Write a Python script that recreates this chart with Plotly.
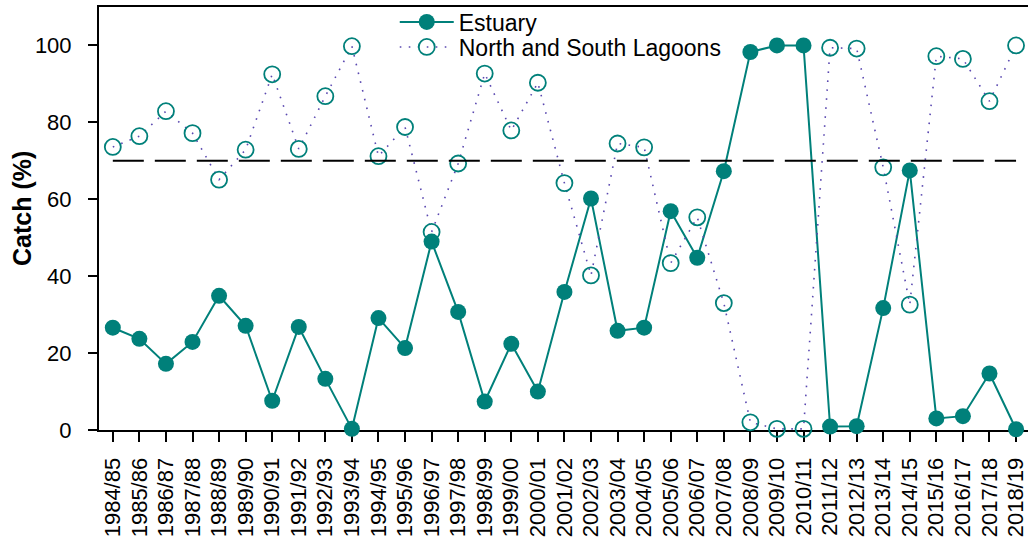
import plotly.graph_objects as go

seasons = ["1984/85", "1985/86", "1986/87", "1987/88", "1988/89", "1989/90", "1990/91",
           "1991/92", "1992/93", "1993/94", "1994/95", "1995/96", "1996/97", "1997/98",
           "1998/99", "1999/00", "2000/01", "2001/02", "2002/03", "2003/04", "2004/05",
           "2005/06", "2006/07", "2007/08", "2008/09", "2009/10", "2010/11", "2011/12",
           "2012/13", "2013/14", "2014/15", "2015/16", "2016/17", "2017/18", "2018/19"]

estuary = [26.6, 23.7, 17.2, 22.9, 34.9, 27.1, 7.6, 26.8, 13.3, 0.3, 29.1, 21.3, 49.0, 30.7,
           7.4, 22.4, 10.0, 35.9, 60.2, 25.8, 26.6, 56.9, 44.8, 67.3, 98.3, 100.0, 100.0,
           0.9, 1.0, 31.7, 67.5, 3.0, 3.6, 14.7, 0.2]

lagoons = [73.6, 76.4, 82.9, 77.2, 65.1, 72.9, 92.5, 73.1, 86.8, 99.8, 71.2, 78.8, 51.5, 69.3,
           92.7, 77.9, 90.3, 64.2, 40.2, 74.5, 73.5, 43.4, 55.3, 33.0, 2.0, 0.3, 0.3,
           99.4, 99.2, 68.3, 32.6, 97.2, 96.5, 85.5, 100.0]

reference_level = 70

TEAL = "#00807a"
FONT = "Liberation Sans, Arial, Helvetica, sans-serif"

fig = go.Figure()

fig.add_trace(go.Scatter(
    x=seasons, y=estuary, name="Estuary", mode="lines+markers",
    line=dict(color=TEAL, width=2),
    marker=dict(symbol="circle", size=16, color=TEAL),
    cliponaxis=False, legend="legend"))

fig.add_trace(go.Scatter(
    x=seasons, y=lagoons, name="North and South Lagoons", mode="lines+markers",
    line=dict(color="#5a48b0", width=1.6, dash="1.6px,7.4px"),
    marker=dict(symbol="circle-open", size=16, color=TEAL, line=dict(width=1.8, color=TEAL)),
    cliponaxis=False, legend="legend2"))

fig.add_trace(go.Scatter(
    x=[seasons[0], seasons[-1]], y=[reference_level, reference_level],
    mode="lines", line=dict(color="black", width=2, dash="31px,11px"),
    showlegend=False, hoverinfo="skip"))

legend_common = dict(xref="container", yref="container", xanchor="left", yanchor="middle",
                     bgcolor="rgba(0,0,0,0)", font=dict(size=23), itemwidth=54)

fig.update_layout(
    width=1028, height=537,
    margin=dict(l=99, r=0, t=7, b=107, autoexpand=False),
    paper_bgcolor="white", plot_bgcolor="white",
    font=dict(family=FONT, size=22, color="black"),
    showlegend=True,
    legend=dict(x=0.384, y=1 - 22 / 537, **legend_common),
    legend2=dict(x=0.384, y=1 - 47 / 537, **legend_common),
    xaxis=dict(type="category", categoryorder="array", categoryarray=seasons,
               tickmode="array", tickvals=seasons, ticktext=seasons,
               range=[-0.52, 34.45], showgrid=False, zeroline=False, automargin=False,
               showline=True, linecolor="black", linewidth=2, mirror=True,
               ticks="outside", ticklen=10, tickwidth=2, tickcolor="black",
               tickangle=-90, tickfont=dict(size=22), ticklabelstandoff=7,
               layer="below traces"),
    yaxis=dict(range=[0, 110], showgrid=False, zeroline=False, automargin=False,
               showline=True, linecolor="black", linewidth=2,
               ticks="outside", ticklen=9, tickwidth=2, tickcolor="black",
               tickvals=[0, 20, 40, 60, 80, 100], tickfont=dict(size=22),
               ticklabelstandoff=12, layer="below traces"),
    annotations=[dict(text="<b>Catch (%)</b>", xref="paper", yref="paper",
                      x=(22 - 99) / 929, y=(430 - 209) / 423, textangle=-90,
                      showarrow=False, font=dict(size=25), xanchor="center", yanchor="middle")],
)

fig.write_html("out.html")
